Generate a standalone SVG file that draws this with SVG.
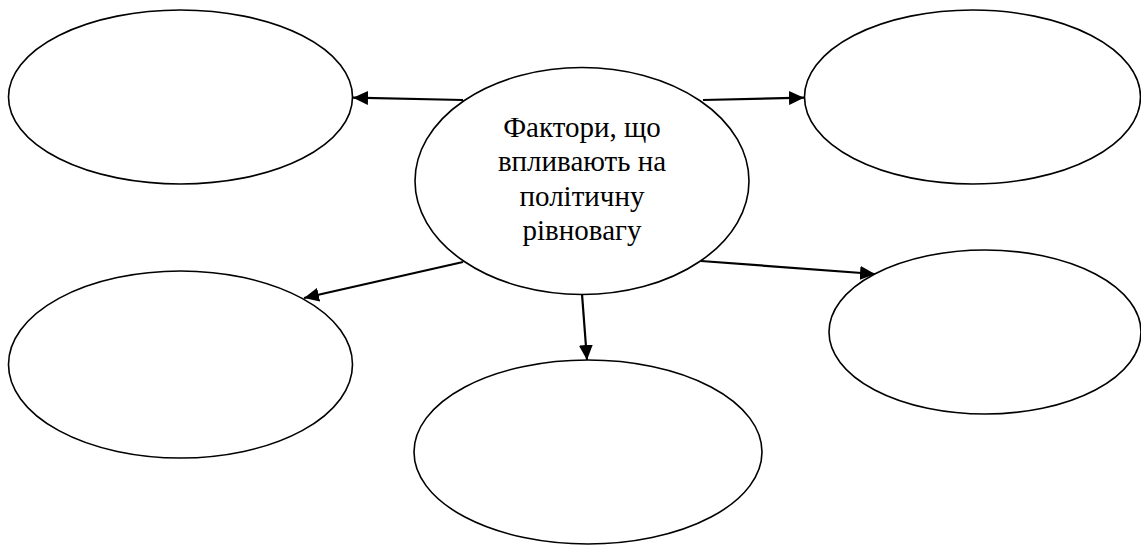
<svg xmlns="http://www.w3.org/2000/svg" width="1141" height="545" viewBox="0 0 1141 545">
<style>
.node{fill:#fff;stroke:#000;stroke-width:1.6}
.conn{stroke:#000;stroke-width:2.2;fill:none;marker-end:url(#arr)}
.lbl{font-family:'Times New Roman','Liberation Serif',serif;font-size:29px;fill:#000;text-anchor:middle}
</style>
<defs>
<marker id="arr" markerUnits="userSpaceOnUse" markerWidth="16" markerHeight="14" refX="15" refY="7" orient="auto">
<path d="M0,0 L15,7 L0,14 z" fill="#000"/>
</marker>
</defs>
<rect width="1141" height="545" fill="#fff"/>
<g id="connectors">
<line class="conn" x1="463" y1="100" x2="353" y2="97.7"/>
<line class="conn" x1="703" y1="100" x2="804" y2="97.7"/>
<line class="conn" x1="463" y1="262" x2="304" y2="298"/>
<line class="conn" x1="701" y1="261" x2="875" y2="274"/>
<line class="conn" x1="582" y1="294" x2="587" y2="360"/>
</g>
<g id="node-top-left"><ellipse class="node" cx="180.5" cy="97" rx="172" ry="87"/></g>
<g id="node-top-right"><ellipse class="node" cx="972.5" cy="97" rx="168" ry="87"/></g>
<g id="node-bottom-left"><ellipse class="node" cx="180.5" cy="364.5" rx="172" ry="93.5"/></g>
<g id="node-bottom-right"><ellipse class="node" cx="985" cy="332" rx="156" ry="82"/></g>
<g id="node-bottom-center"><ellipse class="node" cx="588" cy="452" rx="174" ry="92"/></g>
<g id="node-center">
<ellipse class="node" cx="582" cy="181" rx="167" ry="113.5"/>
<text class="lbl" x="582" y="136.5">Фактори, що</text>
<text class="lbl" x="582" y="171">впливають на</text>
<text class="lbl" x="582" y="205.5">політичну</text>
<text class="lbl" x="582" y="240">рівновагу</text>
</g>
</svg>
